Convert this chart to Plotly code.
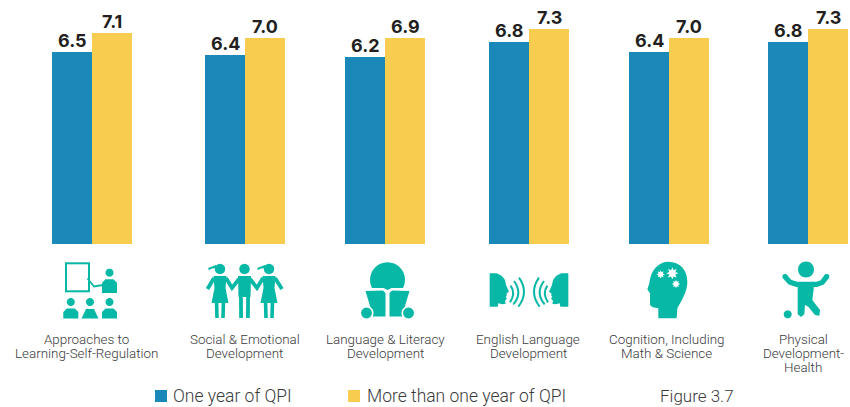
import math
import plotly.graph_objects as go

# ---- data ----
SERIES_ONE = "One year of QPI"
SERIES_MORE = "More than one year of QPI"
one_year_heights = [6.5, 6.4, 6.33, 6.84, 6.5, 6.84]
more_year_heights = [7.14, 6.97, 6.97, 7.28, 6.97, 7.28]
one_year_labels = ["6.5", "6.4", "6.2", "6.8", "6.4", "6.8"]
more_year_labels = ["7.1", "7.0", "6.9", "7.3", "7.0", "7.3"]
categories = [
    ["Approaches to", "Learning-Self-Regulation"],
    ["Social & Emotional", "Development"],
    ["Language & Literacy", "Development"],
    ["English Language", "Development"],
    ["Cognition, Including", "Math & Science"],
    ["Physical", "Development-", "Health"],
]
figure_note = "Figure 3.7"

# ---- layout constants ----
W, H = 850, 407
group_centers = [92, 245, 385, 529, 669, 808]
label_centers = [86.5, 244.5, 385.5, 528.5, 666.5, 803.5]
BAR_W = 40
PX_PER_UNIT = 29.55
BASE_PX = 244
BLUE, YELLOW, TEAL = "#1A88B9", "#F7CC4F", "#06B8A5"
INK, GREY = "#231F20", "#3A3A3C"
CATEGORY_FONT = "Roboto"
LEGEND_FONT = "Roboto"
VALUE_FONT = "Inter"


def fx(x):
    return round(x / W, 5)


def fy(y):
    return round(1 - y / H, 5)


shapes = []


def path_of(cmds):
    out = []
    for c in cmds:
        out.append(c[0] + " ".join(f"{fx(c[i])},{fy(c[i + 1])}" for i in range(1, len(c), 2)))
    return " ".join(out)


def add_path(cmds, fill=TEAL, line=None, width=0, closed=True):
    d = path_of(cmds) + (" Z" if closed else "")
    shapes.append(dict(type="path", xref="paper", yref="paper", path=d,
                       fillcolor=fill if closed else "rgba(0,0,0,0)",
                       line=dict(color=line or "rgba(0,0,0,0)", width=width), layer="above"))


def poly(pts, fill=TEAL):
    add_path([("M", *pts[0])] + [("L", *p) for p in pts[1:]], fill=fill)


def circle(cx, cy, r, fill=TEAL):
    pts = [(cx + r * math.cos(i * math.pi / 16), cy + r * math.sin(i * math.pi / 16)) for i in range(32)]
    poly(pts, fill)


def stroke(pts, width=3.5, color=TEAL):
    add_path([("M", *pts[0])] + [("L", *p) for p in pts[1:]], closed=False, line=color, width=width)


def zpts(ox, oy, pts):
    return [(ox + a / 3, oy + b / 3) for a, b in pts]


def star(cx, cy, r, fill="#FFFFFF"):
    pts = []
    for i in range(16):
        rr = r if i % 2 == 0 else r * 0.55
        pts.append((cx + rr * math.cos(i * math.pi / 8), cy + rr * math.sin(i * math.pi / 8)))
    poly(pts, fill)


def person(cx, top, bottom, r=4):
    circle(cx, top, r)
    poly([(cx - 7.5, bottom), (cx - 7.5, top + 10), (cx - 4, top + 6.5), (cx + 4, top + 6.5),
          (cx + 7.5, top + 10), (cx + 7.5, bottom)])


# icon 1: classroom
poly([(65, 262.3), (90, 262.3), (90, 292.3), (65, 292.3)])
poly([(67, 264.3), (88, 264.3), (88, 290.3), (67, 290.3)], "#FFFFFF")
person(109.5, 272.7, 293)
stroke([(87.5, 278.5), (94, 286.5), (103, 285)], 1.8)
person(70.8, 302, 318.5)
circle(90, 302, 4)
poly([(81.5, 318.5), (86, 309), (94, 309), (98.5, 318.5)])
person(109.5, 302, 318.5)


# icon 2: three children
def child(cx, girl):
    circle(cx, 269, 5.2)
    if girl:
        poly([(cx - 12, 268), (cx - 4, 265), (cx - 3, 268), (cx - 8, 268.5), (cx - 11, 270)])
        poly([(cx - 6.5, 276), (cx + 6.5, 276), (cx + 5.5, 288), (cx + 8.5, 303), (cx - 8.5, 303), (cx - 5.5, 288)])
        stroke([(cx - 3.5, 300), (cx - 3, 318)], 3.6)
        stroke([(cx + 3.5, 300), (cx + 3, 318)], 3.6)
    else:
        poly([(cx - 6.5, 276), (cx + 6.5, 276), (cx + 6, 297), (cx - 6, 297)])
        stroke([(cx - 3.6, 295), (cx - 3.4, 318)], 3.8)
        stroke([(cx + 3.6, 295), (cx + 3.4, 318)], 3.8)


for c, g in [(220, True), (244.5, False), (269, True)]:
    child(c, g)
stroke([(214, 278), (207.5, 289)], 3.8)
stroke([(226, 278), (232, 288), (239, 279)], 3.8)
stroke([(250, 279), (257, 288), (263, 278)], 3.8)
stroke([(275, 278), (282, 289)], 3.8)

# icon 3: child reading
dome_pts = []
for i in range(33):
    a = math.radians(-28 + i * (236 / 32))
    dome_pts.append((387.5 + 17.5 * math.cos(a), 279.8 - 17.5 * math.sin(a)))
poly(dome_pts + [(383.5, 288), (387.5, 290), (391.5, 288)])
poly([(365.5, 291), (383, 290.5), (385.5, 293), (385.5, 316.5), (373, 316.5), (370, 306)])
poly([(389.5, 293), (392, 290.5), (409.5, 291), (405, 306), (402, 316.5), (389.5, 316.5)])
circle(366.5, 313, 7, "#FFFFFF")
circle(408.5, 313, 7, "#FFFFFF")
circle(366.5, 313, 5.4)
circle(408.5, 313, 5.4)

# icon 4: two speaking heads
head = [(14, 25), (35, 25), (50, 32), (60, 45), (63, 60), (72, 80), (65, 85), (65, 92), (62, 96),
        (66, 100), (60, 108), (62, 116), (52, 118), (40, 115), (38, 125), (14, 125)]
arcs = [((77, 62), (93, 85), (75, 112)), ((87, 48), (114, 85), (85, 118)), ((102, 38), (133, 82), (100, 125))]
for mirror in (False, True):
    mx = (lambda p: (264 - p[0], p[1])) if mirror else (lambda p: p)
    poly(zpts(485, 265, [mx(p) for p in head]))
    for a, b, c in arcs:
        pa, pb, pc = zpts(485, 265, [mx(a), mx(b), mx(c)])
        add_path([("M", *pa), ("Q", *pb, *pc)], closed=False, line=TEAL, width=2)


# icon 5: head with stars
def Z5(a, b):
    return (640 + a / 3, 255 + b / 3)


add_path([("M", *Z5(28, 85)), ("C", *Z5(32, 40), *Z5(60, 20), *Z5(85, 20)),
          ("C", *Z5(120, 20), *Z5(142, 45), *Z5(142, 80)),
          ("C", *Z5(142, 110), *Z5(125, 135), *Z5(112, 160)),
          ("L", *Z5(110, 190)), ("L", *Z5(55, 190)), ("L", *Z5(55, 160)),
          ("L", *Z5(38, 157)), ("L", *Z5(30, 150)), ("L", *Z5(30, 115)), ("L", *Z5(22, 103))])
star(*Z5(62, 58), 4.2)
star(*Z5(97, 55), 6)
star(*Z5(108, 87), 4.2)

# icon 6: toddler with ball
circle(806, 269.5, 8)
stroke(zpts(775, 255, [(30, 65), (45, 82), (65, 88), (125, 88), (142, 82), (155, 65)]), 5.2)
circle(785, 276.5, 2.6)
circle(826.7, 276.5, 2.6)
poly(zpts(775, 255, [(68, 85), (118, 85), (112, 135), (135, 165), (133, 182), (120, 180), (100, 155), (90, 150),
                     (88, 178), (78, 186), (68, 178)]))
circle(787.7, 314.3, 4)

# legend squares
poly([(155, 390), (167, 390), (167, 402), (155, 402)], BLUE)
poly([(348, 390), (360, 390), (360, 402), (348, 402)], YELLOW)

annotations = []


def put(text, x, y, size, family, anchor="center"):
    annotations.append(dict(text=text, xref="paper", yref="paper", x=fx(x), y=fy(y), xanchor=anchor,
                            yanchor="middle", showarrow=False,
                            font=dict(family=family, size=size, color=GREY, weight=300)))


for cx, lines in zip(label_centers, categories):
    for i, line in enumerate(lines):
        put(line, cx, 339.5 + i * 14, 13.4, CATEGORY_FONT)
put(SERIES_ONE, 171, 396.3, 17.5, LEGEND_FONT, "left")
put(SERIES_MORE, 365, 396.3, 17.5, LEGEND_FONT, "left")
put(figure_note, 658, 396.3, 17, LEGEND_FONT, "left")

value_font = dict(family=VALUE_FONT, size=18, color=INK, weight="bold")
for cx, h1, t1, h2, t2 in zip(group_centers, one_year_heights, one_year_labels, more_year_heights, more_year_labels):
    for x, h, t in ((cx - BAR_W / 2, h1, t1), (cx + BAR_W / 2, h2, t2)):
        annotations.append(dict(text=t, xref="x", yref="y", x=x, y=h, xanchor="center", yanchor="bottom",
                                yshift=-1, showarrow=False, font=value_font))

fig = go.Figure()
fig.add_bar(name=SERIES_ONE, x=group_centers, y=one_year_heights, width=BAR_W, offset=-BAR_W,
            marker=dict(color=BLUE, line_width=0), cliponaxis=False)
fig.add_bar(name=SERIES_MORE, x=group_centers, y=more_year_heights, width=BAR_W, offset=0,
            marker=dict(color=YELLOW, line_width=0), cliponaxis=False)
fig.update_layout(
    width=W, height=H, margin=dict(l=0, r=0, t=0, b=0, pad=0),
    autosize=False,
    barmode="overlay", showlegend=False, plot_bgcolor="white", paper_bgcolor="white",
    xaxis=dict(range=[0, W], visible=False, fixedrange=True),
    yaxis=dict(range=[-(H - BASE_PX) / PX_PER_UNIT, BASE_PX / PX_PER_UNIT], visible=False, fixedrange=True),
    shapes=shapes, annotations=annotations,
)
fig.write_html("out.html", config=dict(displayModeBar=False),
               post_script="document.documentElement.style.overflow='hidden';document.body.style.margin='0';")
